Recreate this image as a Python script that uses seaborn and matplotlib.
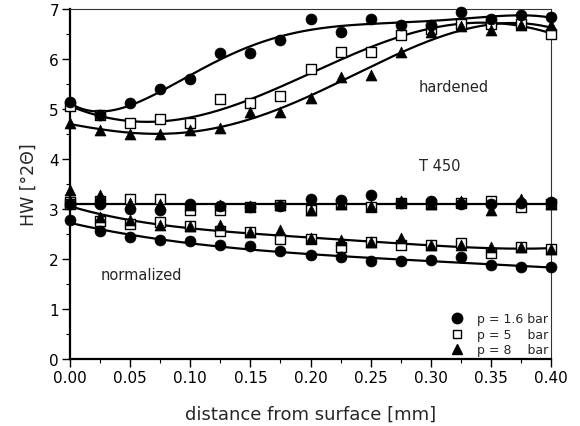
import numpy as np
import pandas as pd
import matplotlib
matplotlib.use("Agg")
import matplotlib.pyplot as plt
import seaborn as sns
from matplotlib.ticker import MultipleLocator, FormatStrFormatter
from matplotlib.lines import Line2D

# depth positions [mm]
depth = [0.000, 0.025, 0.050, 0.075, 0.100, 0.125, 0.150, 0.175, 0.200,
         0.225, 0.250, 0.275, 0.300, 0.325, 0.350, 0.375, 0.400]

# half-widths, hardened state
hard_p16 = [5.14, 4.87, 5.12, 5.40, 5.59, 6.12, 6.12, 6.38, 6.79,
            6.53, 6.80, 6.67, 6.68, 6.93, 6.80, 6.87, 6.83]
hard_p5 = [5.06, 4.87, 4.72, 4.80, 4.72, 5.20, 5.12, 5.25, 5.80,
           6.13, 6.13, 6.48, 6.60, 6.70, 6.70, 6.70, 6.50]
hard_p8 = [4.72, 4.57, 4.50, 4.50, 4.57, 4.62, 4.93, 4.93, 5.21,
           5.63, 5.68, 6.13, 6.53, 6.65, 6.57, 6.67, 6.67]

# half-widths, T 450 (upper, nearly constant band)
t450_p16 = [3.10, 3.10, 3.00, 2.98, 3.10, 3.05, 3.03, 3.05, 3.20,
            3.17, 3.28, 3.12, 3.16, 3.10, 3.10, 3.12, 3.13]
t450_p5 = [3.13, 3.15, 3.20, 3.20, 2.98, 2.98, 3.03, 3.08, 2.97,
           3.10, 3.03, 3.12, 3.10, 3.12, 3.16, 3.03, 3.10]
t450_p8 = [3.37, 3.27, 3.12, 3.10, 3.08, 3.08, 3.05, 3.08, 2.98,
           3.10, 3.06, 3.15, 3.10, 3.16, 2.97, 3.20, 3.10]

# half-widths, normalized state
norm_p16 = [2.77, 2.55, 2.43, 2.38, 2.35, 2.27, 2.25, 2.15, 2.08,
            2.03, 1.95, 1.95, 1.98, 2.03, 1.88, 1.83, 1.83]
norm_p5 = [3.10, 2.76, 2.70, 2.73, 2.65, 2.55, 2.53, 2.40, 2.39,
           2.23, 2.33, 2.27, 2.27, 2.32, 2.12, 2.23, 2.20]
norm_p8 = [3.15, 2.84, 2.77, 2.67, 2.65, 2.67, 2.53, 2.57, 2.42,
           2.37, 2.33, 2.41, 2.27, 2.28, 2.23, 2.23, 2.20]

pressure_labels = ["p = 1.6 bar", "p = 5    bar", "p = 8    bar"]

sns.set_theme(style="ticks")
plt.rcParams["font.family"] = ["DejaVu Sans"]

fig = plt.figure(figsize=(5.8, 4.27), dpi=100)
ax = fig.add_axes([0.1207, 0.157, 0.8293, 0.8196])

x = np.array(depth)
xs = np.linspace(0.0, 0.4, 300)


def fit_curve(xv, yv, deg):
    coef = np.polyfit(xv, yv, deg)
    return np.polyval(coef, xs)


# fitted curves
curves = [
    fit_curve(x, hard_p16, 5),
    fit_curve(x, hard_p5, 5),
    fit_curve(x, hard_p8, 5),
    fit_curve(np.concatenate([x, x, x]),
              np.concatenate([t450_p16, t450_p5, t450_p8]), 0),
    fit_curve(np.concatenate([x, x]), np.concatenate([norm_p5, norm_p8]), 4),
    fit_curve(x, norm_p16, 4),
]
for c in curves:
    sns.lineplot(x=xs, y=c, ax=ax, color="black", lw=1.6, zorder=2)

series = {
    "p5": (hard_p5 + t450_p5 + norm_p5),
    "p8": (hard_p8 + t450_p8 + norm_p8),
    "p16": (hard_p16 + t450_p16 + norm_p16),
}
xx = depth * 3

sns.scatterplot(x=xx, y=series["p5"], ax=ax, marker="s", s=45,
                facecolor="white", edgecolor="black", linewidth=1.0,
                zorder=3, clip_on=False)
sns.scatterplot(x=xx, y=series["p8"], ax=ax, marker="^", s=62,
                color="black", edgecolor="black", linewidth=0.5,
                zorder=4, clip_on=False)
sns.scatterplot(x=xx, y=series["p16"], ax=ax, marker="o", s=62,
                color="black", edgecolor="black", linewidth=0.5,
                zorder=5, clip_on=False)

ax.set_xlim(0.0, 0.4)
ax.set_ylim(0, 7)
ax.xaxis.set_major_locator(MultipleLocator(0.05))
ax.xaxis.set_minor_locator(MultipleLocator(0.025))
ax.xaxis.set_major_formatter(FormatStrFormatter("%.2f"))
ax.yaxis.set_major_locator(MultipleLocator(1))
ax.yaxis.set_minor_locator(MultipleLocator(0.5))

ax.tick_params(axis="both", which="major", direction="out", length=6,
               width=1.0, color="black", labelsize=11, labelcolor="black",
               pad=2)
ax.tick_params(axis="both", which="minor", direction="out", length=3,
               width=0.8, color="black")

for side in ["left", "bottom"]:
    ax.spines[side].set_linewidth(1.6)
    ax.spines[side].set_color("black")
for side in ["top", "right"]:
    ax.spines[side].set_visible(True)
    ax.spines[side].set_linewidth(0.8)
    ax.spines[side].set_color("#333333")

ax.set_xlabel("distance from surface [mm]", fontsize=13, labelpad=14)
ax.set_ylabel("HW [°2Θ]", fontsize=12.5, labelpad=8)

ax.text(0.290, 5.45, "hardened", fontsize=10.5, ha="left", va="center")
ax.text(0.290, 3.87, "T 450", fontsize=10.5, ha="left", va="center")
ax.text(0.059, 1.69, "normalized", fontsize=10.5, ha="center", va="center")

handles = [
    Line2D([], [], marker="o", ls="", color="black", markersize=7.5),
    Line2D([], [], marker="s", ls="", markerfacecolor="white",
           markeredgecolor="black", markersize=6),
    Line2D([], [], marker="^", ls="", color="black", markersize=7.5),
]
ax.legend(handles, pressure_labels, loc="lower right", frameon=False,
          fontsize=9, handletextpad=1.2, labelspacing=0.2,
          borderaxespad=0.1, borderpad=0.1, handlelength=0.8)

fig.savefig("out.png", dpi=100)
